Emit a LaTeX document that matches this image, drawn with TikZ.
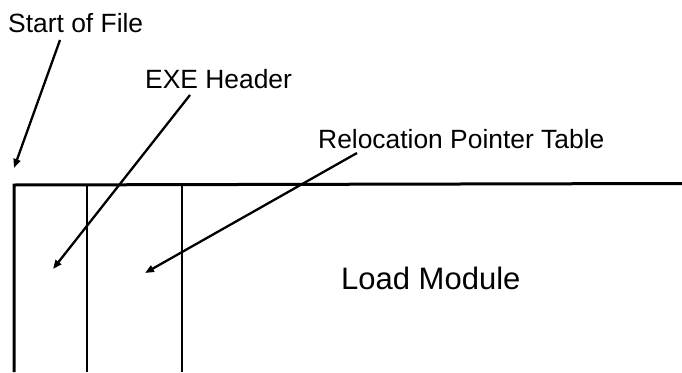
\documentclass[tikz,border=0pt]{standalone}
\usepackage{fontspec}
\setmainfont{Liberation Sans}
\usetikzlibrary{arrows.meta}
\begin{document}
\begin{tikzpicture}[x=1pt,y=-1pt,
  label/.style={inner sep=0pt,anchor=base west,font=\fontsize{26.4}{30}\selectfont},
  biglabel/.style={inner sep=0pt,anchor=base west,font=\fontsize{31}{36}\selectfont},
  pointer/.style={line width=2.3pt,-{Triangle[length=9pt,width=7pt]}},
  thick rule/.style={line width=3pt},
  thin rule/.style={line width=2pt}]
\useasboundingbox (0,0) rectangle (682,372);

% file layout outline
\coordinate (tl) at (14,183.5);
\coordinate (tr) at (682,183.5);
\coordinate (bl) at (14,372);
\draw[thick rule] (bl) -- ([yshift=-1.5pt]tl) -- (tr);
\coordinate (h1) at (87,183.5);
\coordinate (h1b) at (87,372);
\coordinate (h2) at (182,183.5);
\coordinate (h2b) at (182,372);
\draw[thin rule] (h1) -- (h1b);
\draw[thin rule] (h2) -- (h2b);

% labels
\node[label] (sof) at (8,32) {Start of File};
\node[label] (exe) at (145,88) {EXE Header};
\node[label] (rpt) at (318,148) {Relocation Pointer Table};
\node[biglabel] (lm) at (341,289) {Load Module};

% pointers
\coordinate (sofA) at (60,40);
\coordinate (sofB) at (14,168);
\coordinate (exeA) at (190,95);
\coordinate (exeB) at (53,269);
\coordinate (rptA) at (357,153);
\coordinate (rptB) at (145,273);
\draw[pointer] (sofA) -- (sofB);
\draw[pointer] (exeA) -- (exeB);
\draw[pointer] (rptA) -- (rptB);
\end{tikzpicture}
\end{document}
